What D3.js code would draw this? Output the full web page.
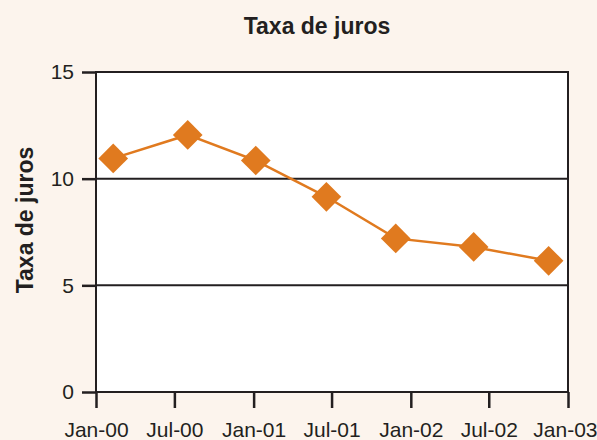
<!DOCTYPE html>
<html>
<head>
<meta charset="utf-8">
<script src="https://cdn.jsdelivr.net/npm/d3@7"></script>
<style>
  body { margin: 0; background: #fcf4ed; }
  svg { display: block; font-family: "Liberation Sans", Arial, sans-serif; }
</style>
</head>
<body>
<div class="chart"></div>
<script>
const w = 597;
const h = 440;

// data
const dates = ["2000-02-10", "2000-08-01", "2001-01-06", "2001-06-19", "2001-11-27", "2002-05-27", "2002-11-17"];
const rates = [10.95, 12.05, 10.85, 9.15, 7.2, 6.8, 6.15];
const yTicks = [0, 5, 10, 15];
const xTicks = ["2000-01-01", "2000-07-01", "2001-01-01", "2001-07-01", "2002-01-01", "2002-07-01", "2003-01-01"];

const parse = d3.timeParse("%Y-%m-%d");
const data = dates.map((d, i) => ({ date: parse(d), value: rates[i] }));

const plotL = 96, plotR = 568, plotT = 72, plotB = 392;

const svg = d3.select(".chart")
  .append("svg")
  .attr("width", w)
  .attr("height", h);

const x = d3.scaleTime()
  .domain([parse("2000-01-01"), parse("2003-01-01")])
  .range([plotL, plotR]);

const y = d3.scaleLinear()
  .domain([0, 15])
  .range([plotB, plotT]);

// plot area
svg.append("rect")
  .attr("x", plotL)
  .attr("y", plotT)
  .attr("width", plotR - plotL)
  .attr("height", plotB - plotT)
  .attr("fill", "#fff");

// gridlines
svg.append("g")
  .selectAll("line")
  .data([5, 10])
  .enter().append("line")
  .attr("x1", plotL)
  .attr("x2", plotR)
  .attr("y1", d => y(d))
  .attr("y2", d => y(d))
  .attr("stroke", "#231f20")
  .attr("stroke-width", 2);

// frame
svg.append("rect")
  .attr("x", plotL)
  .attr("y", plotT)
  .attr("width", plotR - plotL)
  .attr("height", plotB - plotT)
  .attr("fill", "none")
  .attr("stroke", "#231f20")
  .attr("stroke-width", 2);

const yAxis = svg.append("g")
  .attr("transform", `translate(${plotL},0)`)
  .call(d3.axisLeft(y).tickValues(yTicks).tickSize(14).tickPadding(8).tickFormat(d3.format("d")));

const xAxis = svg.append("g")
  .attr("transform", `translate(0,${plotB})`)
  .call(d3.axisBottom(x).tickValues(xTicks.map(parse)).tickSize(16).tickPadding(14).tickFormat(d3.timeFormat("%b-%y")));

[yAxis, xAxis].forEach(g => {
  g.select(".domain").remove();
  g.selectAll("line").attr("stroke", "#231f20").attr("stroke-width", 2.5);
  g.selectAll("text").attr("fill", "#231f20").attr("font-size", "21px").attr("font-family", "Liberation Sans, Arial, sans-serif");
});

// last label pulled in so it stays on the page
xAxis.selectAll(".tick:last-of-type text")
  .attr("text-anchor", "end")
  .attr("x", w - plotR);

// series
const line = d3.line()
  .x(d => x(d.date))
  .y(d => y(d.value));

svg.append("path")
  .datum(data)
  .attr("d", line)
  .attr("fill", "none")
  .attr("stroke", "#e07a1f")
  .attr("stroke-width", 2.5);

svg.append("g")
  .selectAll("path")
  .data(data)
  .enter().append("path")
  .attr("d", d3.symbol().type(d3.symbolSquare).size(440))
  .attr("transform", d => `translate(${x(d.date)},${y(d.value)}) rotate(45)`)
  .attr("fill", "#e07a1f");

// titles
svg.append("text")
  .attr("x", 317)
  .attr("y", 34)
  .attr("text-anchor", "middle")
  .attr("font-size", "23px")
  .attr("font-weight", "bold")
  .attr("fill", "#231f20")
  .text("Taxa de juros");

svg.append("text")
  .attr("transform", "translate(33,220) rotate(-90)")
  .attr("text-anchor", "middle")
  .attr("font-size", "23px")
  .attr("font-weight", "bold")
  .attr("fill", "#231f20")
  .text("Taxa de juros");
</script>
</body>
</html>
